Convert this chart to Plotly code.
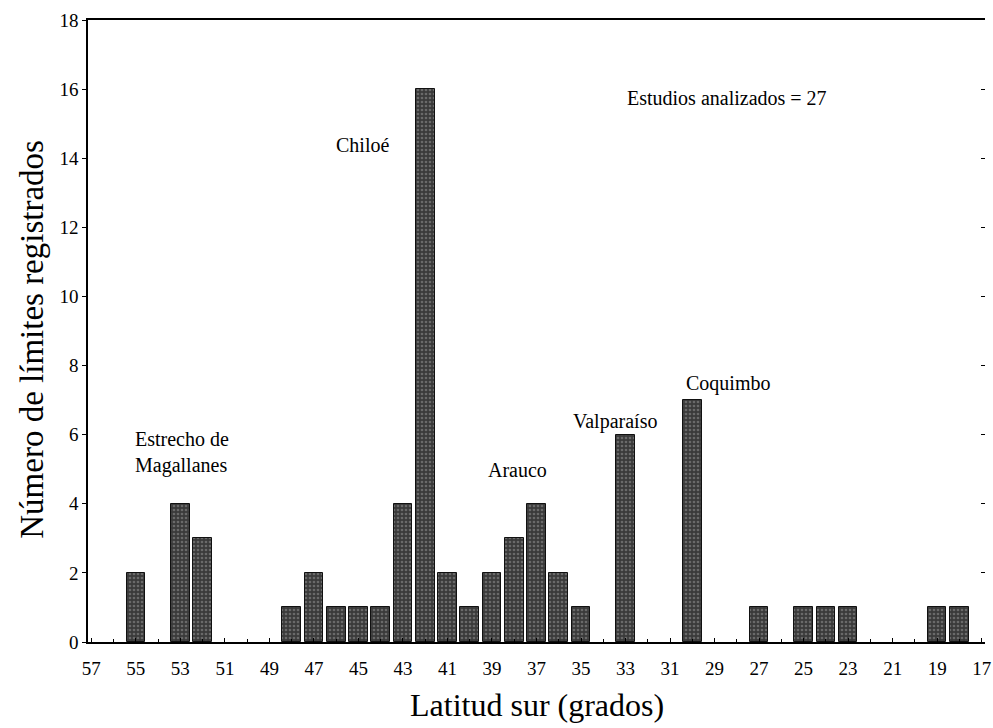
import plotly.graph_objects as go

latitudes = [55, 53, 52, 48, 47, 46, 45, 44, 43, 42, 41, 40, 39, 38, 37, 36, 35, 33, 30, 27, 25, 24, 23, 19, 18]
counts = [2, 4, 3, 1, 2, 1, 1, 1, 4, 16, 2, 1, 2, 3, 4, 2, 1, 6, 7, 1, 1, 1, 1, 1, 1]
x_ticks = list(range(57, 16, -2))
y_ticks = list(range(0, 19, 2))

labels = [
    ("Estudios analizados = 27", 33.02, 15.74),
    ("Chiloé", 46.08, 14.38),
    ("Estrecho de<br>Magallanes", 55.12, 5.48),
    ("Arauco", 39.28, 4.98),
    ("Valparaíso", 35.43, 6.39),
    ("Coquimbo", 30.38, 7.47),
]

font_family = "Liberation Serif"

fig = go.Figure()
fig.add_trace(go.Bar(
    x=latitudes, y=counts, width=0.84,
    marker=dict(color="#3a3a3a", line=dict(color="#111111", width=1),
                pattern=dict(shape=".", fgcolor="#9a9a9a", bgcolor="#3a3a3a", size=4, solidity=0.35)),
    showlegend=False, hoverinfo="x+y",
))
fig.add_trace(go.Scatter(x=[57], y=[0], xaxis="x2", yaxis="y2", mode="markers",
                         marker=dict(opacity=0), showlegend=False, hoverinfo="skip"))

for text, x, y in labels:
    fig.add_annotation(x=x, y=y, text=text, showarrow=False, xanchor="left", yanchor="middle",
                       align="left", font=dict(family=font_family, size=20, color="black"))

fig.add_annotation(xref="paper", yref="paper", x=0.5, y=-0.101, text="Latitud sur (grados)",
                   showarrow=False, xanchor="center", yanchor="middle",
                   font=dict(family=font_family, size=32, color="black"))
fig.add_annotation(xref="paper", yref="paper", x=-0.0624, y=0.486, text="Número de límites registrados",
                   showarrow=False, xanchor="center", yanchor="middle", textangle=-90,
                   font=dict(family=font_family, size=33, color="black"))

fig.update_layout(
    width=993, height=728,
    margin=dict(l=88, r=8, t=20, b=86),
    paper_bgcolor="white", plot_bgcolor="white",
    font=dict(family=font_family, color="black"),
    bargap=0,
    xaxis=dict(
        range=[57.15, 16.85], tickvals=x_ticks, ticktext=[str(v) for v in x_ticks],
        ticks="inside", ticklen=4, tickcolor="black", showgrid=False, zeroline=False,
        showline=True, linecolor="black", linewidth=1.5, mirror=True, automargin=False,
        minor=dict(dtick=1, ticks="inside", ticklen=3, tickcolor="black"),
        tickfont=dict(size=19, family=font_family), ticklabelstandoff=8,
    ),
    yaxis=dict(
        range=[0, 18], tickvals=y_ticks, ticks="outside", ticklen=4, tickcolor="black",
        showgrid=False, zeroline=False, showline=True, linecolor="black", linewidth=1.5,
        automargin=False,
        tickfont=dict(size=19, family=font_family),
    ),
    xaxis2=dict(overlaying="x", range=[57.15, 16.85], showticklabels=False, showgrid=False,
                zeroline=False, showline=False, ticks=""),
    yaxis2=dict(overlaying="y", side="right", range=[0, 18], tickvals=y_ticks, showticklabels=False,
                ticks="inside", ticklen=4, tickcolor="black", showgrid=False, zeroline=False, showline=False),
)

fig.write_html("out.html", config={"displayModeBar": False},
               post_script="document.body.style.margin='0px';")
